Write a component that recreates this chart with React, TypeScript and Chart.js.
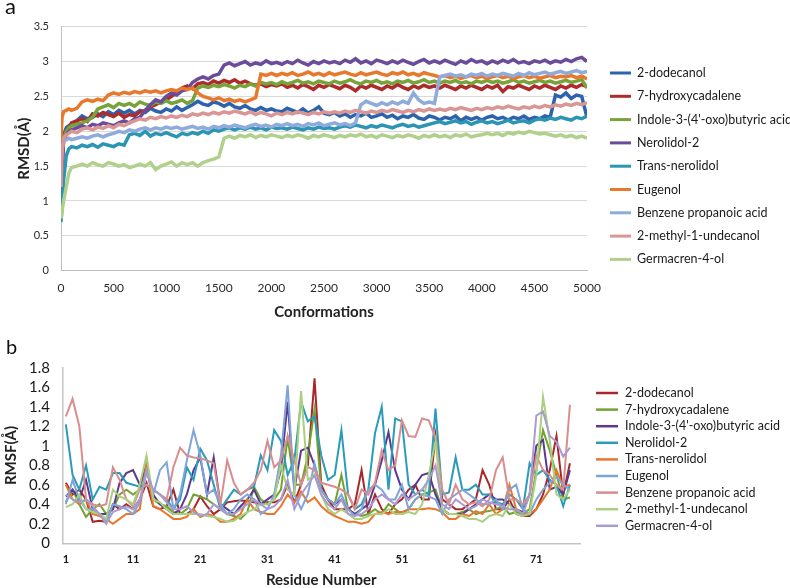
import React, { useEffect, useRef } from 'react';
import { Chart, registerables } from 'chart.js';

Chart.register(...registerables);

const FONT = 'Lato, "Open Sans", "DejaVu Sans", sans-serif';

// ---------- shared ----------
const COMPOUNDS_A = [
  '2-dodecanol', '7-hydroxycadalene', "Indole-3-(4'-oxo)butyric acid", 'Nerolidol-2',
  'Trans-nerolidol', 'Eugenol', 'Benzene propanoic acid', '2-methyl-1-undecanol', 'Germacren-4-ol',
];
const COMPOUNDS_B = [
  '2-dodecanol', '7-hydroxycadalene', "Indole-3-(4'-oxo)butyric acid", 'Nerolidol-2',
  'Trans-nerolidol', 'Eugenol', 'Benzene propanoic acid', '2-methyl-1-undecanol', 'Germacren-4-ol',
];
const COLORS_A = ['#2C63AC', '#AE2B2B', '#77A33A', '#6B4C9A', '#2B95B3', '#E8782C', '#8EABDB', '#D99694', '#B0D08C'];
const COLORS_B = ['#A8282A', '#72A332', '#5B3A8E', '#2A9BB8', '#E8762B', '#7FA4DA', '#D98D8D', '#A9CF7F', '#A99BD0'];

// ---------- panel a : RMSD vs conformations ----------
const CONFORMATIONS: number[] = [0, 10, 25, 50, 75];
for (let c = 100; c <= 5000; c += 50) CONFORMATIONS.push(c);

const RMSD_2_DODECANOL = [1.0, 1.6, 1.95, 2.05, 2.08,
  2.1, 2.15, 2.22, 2.18, 2.2, 2.25, 2.21, 2.28, 2.24, 2.3,
  2.26, 2.3, 2.25, 2.3, 2.27, 2.33, 2.29, 2.27, 2.32, 2.29,
  2.35, 2.3, 2.34, 2.38, 2.43, 2.39, 2.37, 2.42, 2.4, 2.36,
  2.4, 2.35, 2.33, 2.37, 2.32, 2.3, 2.34, 2.3, 2.32, 2.29,
  2.28, 2.33, 2.3, 2.27, 2.32, 2.26, 2.3, 2.35, 2.26, 2.24,
  2.27, 2.22, 2.25, 2.2, 2.24, 2.22, 2.26, 2.2, 2.22, 2.25,
  2.2, 2.23, 2.18, 2.22, 2.2, 2.24, 2.19, 2.17, 2.22, 2.2,
  2.16, 2.2, 2.18, 2.22, 2.15, 2.2, 2.17, 2.2, 2.16, 2.2,
  2.22, 2.18, 2.2, 2.16, 2.2, 2.18, 2.22, 2.17, 2.2, 2.18,
  2.22, 2.2, 2.52, 2.49, 2.55, 2.47, 2.52, 2.5, 2.2];
const RMSD_7_HYDROXYCADALENE = [0.9, 1.5, 1.9, 2.0, 2.05,
  2.12, 2.15, 2.18, 2.14, 2.25, 2.22, 2.27, 2.24, 2.21, 2.26,
  2.2, 2.24, 2.22, 2.28, 2.3, 2.35, 2.38, 2.42, 2.45, 2.5,
  2.55, 2.62, 2.65, 2.61, 2.68, 2.7, 2.67, 2.72, 2.69, 2.73,
  2.7, 2.74, 2.69, 2.72, 2.68, 2.66, 2.68, 2.64, 2.67, 2.65,
  2.68, 2.63, 2.66, 2.62, 2.67, 2.64, 2.6, 2.66, 2.63, 2.67,
  2.64, 2.61, 2.66, 2.63, 2.58, 2.65, 2.62, 2.66, 2.63, 2.6,
  2.65, 2.62, 2.67, 2.63, 2.6, 2.65, 2.62, 2.66, 2.63, 2.65,
  2.62, 2.66, 2.63, 2.6, 2.65, 2.62, 2.66, 2.63, 2.6, 2.65,
  2.62, 2.66, 2.57, 2.64, 2.62, 2.66, 2.63, 2.6, 2.65, 2.62,
  2.66, 2.63, 2.6, 2.65, 2.62, 2.66, 2.63, 2.67, 2.64];
const RMSD_INDOLE = [0.9, 1.6, 1.9, 2.0, 2.05,
  2.08, 2.1, 2.12, 2.15, 2.2, 2.32, 2.35, 2.38, 2.34, 2.4,
  2.37, 2.4, 2.36, 2.42, 2.39, 2.37, 2.42, 2.4, 2.44, 2.4,
  2.42, 2.45, 2.4, 2.44, 2.62, 2.65, 2.63, 2.66, 2.64, 2.67,
  2.65, 2.62, 2.66, 2.64, 2.68, 2.65, 2.7, 2.68, 2.7, 2.67,
  2.71, 2.68, 2.7, 2.73, 2.69, 2.71, 2.68, 2.72, 2.7, 2.68,
  2.72, 2.69, 2.71, 2.74, 2.7, 2.68, 2.72, 2.7, 2.73, 2.69,
  2.71, 2.68, 2.72, 2.7, 2.73, 2.69, 2.71, 2.74, 2.7, 2.72,
  2.69, 2.72, 2.7, 2.73, 2.69, 2.71, 2.68, 2.72, 2.7, 2.73,
  2.7, 2.72, 2.69, 2.71, 2.74, 2.7, 2.72, 2.69, 2.71, 2.73,
  2.7, 2.72, 2.69, 2.71, 2.73, 2.7, 2.72, 2.74, 2.62];
const RMSD_NEROLIDOL_2 = [0.9, 1.5, 1.85, 1.95, 2.0,
  2.02, 2.05, 2.08, 2.05, 2.1, 2.08, 2.12, 2.1, 2.08, 2.12,
  2.15, 2.12, 2.18, 2.2, 2.3, 2.38, 2.45, 2.42, 2.5, 2.55,
  2.52, 2.58, 2.6, 2.7, 2.75, 2.78, 2.75, 2.8, 2.82, 2.95,
  2.98, 2.94, 2.97, 3.0, 2.95, 2.98, 2.96, 3.01, 2.97, 2.99,
  2.96, 3.0, 2.97, 3.02, 2.98, 2.95, 3.0, 2.97, 3.01, 2.98,
  3.0, 2.97, 3.02, 2.99, 3.04, 2.98, 3.01, 2.97, 3.02, 3.0,
  2.97, 3.01, 2.98, 3.02, 2.99, 2.96, 3.0, 3.03, 2.98, 3.01,
  2.98, 3.02, 2.99, 2.96, 3.01, 2.98, 3.03, 2.99, 3.01, 2.97,
  3.01, 2.98, 3.02, 2.99, 3.03, 2.98, 3.0, 2.97, 3.01, 2.99,
  3.02, 2.98, 3.01, 2.99, 3.03, 3.0, 3.04, 3.06, 3.0];
const RMSD_TRANS_NEROLIDOL = [0.7, 0.9, 1.3, 1.65, 1.75,
  1.78, 1.76, 1.8, 1.78, 1.81, 1.77, 1.82, 1.8, 1.78, 1.82,
  1.8, 1.95, 1.97, 1.94, 2.0, 1.93, 1.97, 1.95, 1.98, 1.95,
  1.92, 1.97, 1.95, 1.98, 1.96, 2.0, 1.97, 2.02, 2.0, 2.03,
  2.05, 2.02, 2.05, 2.03, 2.06, 2.03, 2.05, 2.02, 2.06, 2.04,
  2.05, 2.03, 2.06, 2.04, 2.02, 2.05, 2.03, 2.06, 2.04, 2.05,
  2.03, 2.06, 2.08, 2.06, 2.09, 2.07, 2.05, 2.08, 2.06, 2.09,
  2.07, 2.05, 2.08, 2.1, 2.07, 2.09, 2.06, 2.08, 2.1, 2.12,
  2.14, 2.11, 2.13, 2.15, 2.12, 2.14, 2.1, 2.13, 2.15, 2.12,
  2.14, 2.11, 2.13, 2.16, 2.12, 2.14, 2.15, 2.12, 2.16, 2.18,
  2.16, 2.19, 2.17, 2.2, 2.18, 2.16, 2.2, 2.18, 2.22];
const RMSD_EUGENOL = [1.9, 2.2, 2.28, 2.3, 2.32,
  2.3, 2.33, 2.42, 2.45, 2.43, 2.46, 2.44, 2.52, 2.55, 2.53,
  2.56, 2.54, 2.57, 2.55, 2.58, 2.56, 2.58, 2.55, 2.58, 2.6,
  2.58, 2.62, 2.6, 2.62, 2.55, 2.5, 2.48, 2.45, 2.48, 2.44,
  2.46, 2.43, 2.45, 2.42, 2.45, 2.48, 2.82, 2.8, 2.83, 2.8,
  2.83, 2.81, 2.84, 2.8, 2.82, 2.85, 2.81, 2.83, 2.8, 2.84,
  2.81, 2.83, 2.85, 2.82, 2.8, 2.84, 2.81, 2.83, 2.85, 2.82,
  2.8, 2.84, 2.82, 2.85, 2.81, 2.83, 2.8, 2.84, 2.82, 2.8,
  2.78, 2.8, 2.77, 2.79, 2.76, 2.78, 2.8, 2.77, 2.79, 2.76,
  2.78, 2.8, 2.77, 2.79, 2.76, 2.78, 2.8, 2.77, 2.79, 2.76,
  2.78, 2.8, 2.77, 2.79, 2.78, 2.8, 2.77, 2.79, 2.75];
const RMSD_BENZENE_PROPANOIC = [1.5, 1.75, 1.85, 1.88, 1.9,
  1.88, 1.9, 1.92, 1.9, 1.93, 1.95, 1.92, 1.95, 1.97, 2.0,
  1.98, 2.02, 2.0, 2.03, 2.05, 2.02, 2.05, 2.03, 2.06, 2.04,
  2.06, 2.03, 2.05, 2.07, 2.04, 2.06, 2.03, 2.07, 2.05, 2.08,
  2.06, 2.09, 2.07, 2.05, 2.08, 2.1, 2.07, 2.09, 2.06, 2.1,
  2.08, 2.11, 2.08, 2.1, 2.07, 2.11, 2.09, 2.12, 2.08, 2.1,
  2.12, 2.09, 2.11, 2.08, 2.12, 2.38, 2.43, 2.4, 2.37, 2.41,
  2.38, 2.42, 2.39, 2.43, 2.4, 2.55, 2.45, 2.4, 2.42, 2.4,
  2.78, 2.8, 2.82, 2.79, 2.81, 2.78, 2.82, 2.8, 2.83, 2.79,
  2.82, 2.8, 2.83, 2.81, 2.79, 2.83, 2.8, 2.84, 2.81, 2.83,
  2.85, 2.82, 2.84, 2.86, 2.83, 2.85, 2.87, 2.84, 2.86];
const RMSD_2_METHYL = [1.2, 1.7, 1.9, 1.95, 1.97,
  2.0, 1.98, 2.03, 2.05, 2.02, 2.06, 2.04, 2.08, 2.05, 2.1,
  2.08, 2.12, 2.15, 2.18, 2.16, 2.2, 2.18, 2.21, 2.19, 2.22,
  2.2, 2.23, 2.21, 2.25, 2.23, 2.26, 2.24, 2.27, 2.25, 2.28,
  2.26, 2.29, 2.27, 2.25, 2.28, 2.24, 2.27, 2.25, 2.22, 2.26,
  2.24, 2.27, 2.25, 2.28, 2.26, 2.24, 2.27, 2.25, 2.28, 2.26,
  2.28, 2.26, 2.29, 2.27, 2.3, 2.28, 2.26, 2.29, 2.27, 2.3,
  2.28, 2.31, 2.29, 2.27, 2.3, 2.28, 2.31, 2.29, 2.32, 2.3,
  2.32, 2.3, 2.33, 2.31, 2.34, 2.32, 2.3, 2.33, 2.31, 2.34,
  2.32, 2.35, 2.33, 2.36, 2.34, 2.32, 2.35, 2.33, 2.36, 2.34,
  2.37, 2.35, 2.38, 2.36, 2.39, 2.37, 2.4, 2.38, 2.41];
const RMSD_GERMACREN = [0.75, 0.85, 1.0, 1.2, 1.4,
  1.48, 1.5, 1.53, 1.5, 1.55, 1.52, 1.5, 1.55, 1.53, 1.5,
  1.52, 1.48, 1.5, 1.53, 1.5, 1.55, 1.45, 1.5, 1.53, 1.56,
  1.5, 1.55, 1.52, 1.55, 1.5, 1.55, 1.58, 1.6, 1.63, 1.9,
  1.93, 1.9, 1.94, 1.92, 1.95, 1.91, 1.94, 1.92, 1.95, 1.93,
  1.91, 1.94, 1.92, 1.95, 1.93, 1.9, 1.94, 1.92, 1.95, 1.93,
  1.91, 1.94, 1.92, 1.95, 1.93, 1.96, 1.92, 1.94, 1.91, 1.95,
  1.93, 1.91, 1.94, 1.92, 1.95, 1.93, 1.9, 1.94, 1.92, 1.95,
  1.92, 1.94, 1.91, 1.95, 1.93, 1.96, 1.92, 1.94, 1.95, 1.97,
  1.95, 1.97, 1.94, 1.98, 1.96, 1.99, 1.97, 2.0, 1.98, 1.96,
  1.97, 1.95, 1.93, 1.95, 1.92, 1.94, 1.91, 1.93, 1.9];

const RMSD_SERIES = [RMSD_2_DODECANOL, RMSD_7_HYDROXYCADALENE, RMSD_INDOLE, RMSD_NEROLIDOL_2,
  RMSD_TRANS_NEROLIDOL, RMSD_EUGENOL, RMSD_BENZENE_PROPANOIC, RMSD_2_METHYL, RMSD_GERMACREN];

// ---------- panel b : RMSF vs residue ----------
const RESIDUES: string[] = [];
for (let r = 1; r <= 77; r++) RESIDUES.push(String(r));
const RESIDUE_TICKS = ['1', '11', '21', '31', '41', '51', '61', '71'];

const RMSF_2_DODECANOL = [0.62, 0.5, 0.55, 0.45, 0.22, 0.23, 0.22, 0.4, 0.35, 0.4,
  0.35, 0.45, 0.62, 0.38, 0.35, 0.38, 0.55, 0.3, 0.3, 0.35,
  0.48, 0.38, 0.3, 0.35, 0.42, 0.43, 0.44, 0.43, 0.42, 0.4,
  0.42, 0.42, 0.45, 0.6, 0.42, 0.6, 0.8, 1.69, 0.6, 0.45,
  0.35, 0.35, 0.35, 0.4, 0.75, 0.3, 0.5, 0.35, 0.3, 0.4,
  0.45, 0.55, 0.6, 0.45, 0.45, 1.1, 0.45, 0.4, 0.35, 0.35,
  0.4, 0.45, 0.75, 0.6, 0.35, 0.35, 0.45, 0.3, 0.28, 0.28,
  0.35, 0.5, 0.75, 1.1, 0.5, 0.82];
const RMSF_7_HYDROXYCADALENE = [0.42, 0.55, 0.4, 0.27, 0.35, 0.4, 0.3, 0.35, 0.5, 0.55,
  0.5, 0.55, 0.82, 0.45, 0.4, 0.38, 0.32, 0.3, 0.35, 0.5,
  0.48, 0.45, 0.4, 0.35, 0.3, 0.28, 0.25, 0.32, 0.58, 0.45,
  0.4, 0.45, 0.55, 1.08, 0.6, 0.6, 0.9, 1.37, 0.55, 0.45,
  0.4, 0.7, 0.35, 0.3, 0.28, 0.3, 0.35, 0.3, 0.4, 0.35,
  0.3, 0.35, 0.45, 0.5, 0.52, 0.55, 0.35, 0.3, 0.3, 0.32,
  0.35, 0.3, 0.32, 0.33, 0.35, 0.38, 0.3, 0.32, 0.3, 0.35,
  0.75, 1.16, 0.95, 0.7, 0.45, 0.47];
const RMSF_INDOLE = [0.48, 0.55, 0.45, 0.65, 0.35, 0.3, 0.3, 0.35, 0.62, 0.72,
  0.75, 0.6, 0.8, 0.5, 0.4, 0.35, 0.3, 0.35, 0.5, 0.75,
  0.88, 0.5, 0.88, 0.4, 0.35, 0.3, 0.38, 0.45, 0.55, 0.4,
  0.45, 0.5, 0.75, 1.45, 0.55, 0.95, 0.98, 0.8, 0.55, 0.45,
  0.4, 0.45, 0.35, 0.3, 0.35, 0.4, 0.6, 0.85, 1.14, 0.75,
  0.55, 0.45, 0.6, 0.7, 0.72, 0.5, 0.35, 0.3, 0.3, 0.3,
  0.35, 0.4, 0.45, 0.5, 0.45, 0.45, 0.4, 0.35, 0.32, 0.5,
  1.0, 1.06, 0.55, 0.58, 0.5, 0.75];
const RMSF_NEROLIDOL_2 = [1.22, 0.7, 0.55, 0.8, 0.45, 0.58, 0.55, 0.72, 0.72, 0.62,
  0.6, 0.58, 0.6, 0.55, 0.5, 0.45, 0.35, 0.45, 0.78, 0.65,
  0.97, 0.85, 0.6, 0.35, 0.45, 0.55, 0.5, 0.55, 0.58, 0.9,
  0.75, 1.16, 1.05, 0.7, 0.85, 1.45, 1.25, 1.3, 0.9, 0.65,
  0.7, 1.16, 0.5, 0.35, 0.4, 0.55, 1.13, 1.4, 0.55, 1.28,
  1.25, 0.6, 0.5, 0.55, 0.5, 1.38, 0.5, 0.52, 0.88, 0.55,
  0.55, 0.6, 0.5, 0.5, 0.42, 0.4, 0.5, 0.45, 0.35, 0.82,
  0.7, 0.75, 0.65, 0.6, 0.38, 0.6];
const RMSF_TRANS_NEROLIDOL = [0.6, 0.45, 0.4, 0.45, 0.3, 0.28, 0.25, 0.2, 0.25, 0.3,
  0.3, 0.35, 0.82, 0.38, 0.35, 0.3, 0.25, 0.25, 0.27, 0.35,
  0.27, 0.3, 0.28, 0.22, 0.22, 0.25, 0.3, 0.45, 0.35, 0.32,
  0.3, 0.3, 0.38, 0.5, 0.42, 0.53, 0.42, 0.47, 0.38, 0.32,
  0.28, 0.25, 0.22, 0.22, 0.2, 0.22, 0.3, 0.32, 0.3, 0.32,
  0.32, 0.35, 0.35, 0.35, 0.36, 0.35, 0.32, 0.25, 0.25, 0.3,
  0.28, 0.33, 0.3, 0.4, 0.3, 0.35, 0.6, 0.35, 0.3, 0.3,
  0.35, 0.45, 0.55, 0.75, 0.58, 0.6];
const RMSF_EUGENOL = [0.4, 0.65, 0.45, 0.35, 0.35, 0.3, 0.22, 0.4, 0.38, 0.35,
  0.3, 0.42, 0.75, 0.5, 0.75, 0.83, 0.35, 0.5, 0.85, 1.16,
  0.9, 0.5, 0.55, 0.4, 0.3, 0.35, 0.45, 0.5, 0.45, 0.3,
  0.35, 0.5, 0.9, 1.62, 0.5, 0.35, 0.5, 0.82, 0.55, 0.45,
  0.4, 0.5, 0.35, 0.28, 0.35, 0.55, 0.6, 0.55, 0.45, 0.45,
  0.6, 0.35, 0.45, 0.5, 0.48, 0.45, 0.3, 0.45, 0.5, 0.55,
  0.5, 0.45, 0.4, 0.4, 0.45, 0.35, 0.55, 0.6, 0.35, 0.3,
  0.45, 0.55, 0.62, 0.68, 0.6, 0.55];
const RMSF_BENZENE_PROPANOIC = [1.3, 1.48, 1.2, 0.45, 0.4, 0.38, 0.4, 0.78, 0.65, 0.45,
  0.38, 0.55, 0.6, 0.55, 0.5, 0.45, 0.78, 0.98, 0.9, 0.88,
  0.87, 0.85, 0.82, 0.4, 0.85, 0.62, 0.5, 0.55, 0.62, 0.75,
  1.05, 0.78, 0.85, 1.1, 0.85, 0.6, 0.78, 0.75, 0.62, 0.6,
  0.58, 0.55, 0.5, 0.35, 0.55, 0.5, 0.62, 0.95, 0.75, 0.8,
  1.26, 1.1, 1.09, 1.28, 1.26, 1.08, 0.55, 0.4, 0.6, 0.45,
  0.4, 0.42, 0.38, 0.45, 0.75, 0.88, 0.45, 0.45, 0.4, 0.5,
  0.9, 0.75, 0.7, 0.6, 0.55, 1.42];
const RMSF_2_METHYL = [0.37, 0.4, 0.5, 0.35, 0.32, 0.3, 0.25, 0.55, 0.48, 0.45,
  0.4, 0.6, 0.9, 0.45, 0.42, 0.35, 0.3, 0.3, 0.3, 0.3,
  0.3, 0.28, 0.27, 0.25, 0.22, 0.23, 0.28, 0.32, 0.35, 0.4,
  0.4, 0.45, 0.8, 0.55, 0.5, 1.56, 0.65, 0.7, 0.5, 0.35,
  0.3, 0.35, 0.3, 0.25, 0.25, 0.28, 0.3, 0.3, 0.35, 0.3,
  0.3, 0.32, 0.3, 0.4, 0.7, 1.05, 0.35, 0.3, 0.3, 0.28,
  0.25, 0.25, 0.22, 0.28, 0.3, 0.28, 0.4, 0.3, 0.28, 0.3,
  0.7, 1.5, 1.05, 0.5, 0.45, 0.55];
const RMSF_GERMACREN = [0.5, 0.45, 0.42, 0.45, 0.38, 0.3, 0.2, 0.32, 0.35, 0.38,
  0.35, 0.45, 0.72, 0.55, 0.5, 0.42, 0.35, 0.35, 0.38, 0.32,
  0.28, 0.3, 0.4, 0.35, 0.3, 0.3, 0.35, 0.4, 0.45, 0.4,
  0.35, 0.38, 0.45, 0.65, 0.35, 0.5, 0.6, 0.7, 0.5, 0.4,
  0.35, 0.45, 0.3, 0.28, 0.3, 0.35, 0.45, 0.5, 0.45, 0.4,
  0.5, 0.45, 0.5, 0.55, 0.65, 0.8, 0.4, 0.35, 0.45, 0.4,
  0.35, 0.38, 0.45, 0.42, 0.4, 0.38, 0.35, 0.35, 0.3, 0.5,
  1.31, 1.35, 1.1, 1.04, 0.89, 0.98];

const RMSF_SERIES = [RMSF_2_DODECANOL, RMSF_7_HYDROXYCADALENE, RMSF_INDOLE, RMSF_NEROLIDOL_2,
  RMSF_TRANS_NEROLIDOL, RMSF_EUGENOL, RMSF_BENZENE_PROPANOIC, RMSF_2_METHYL, RMSF_GERMACREN];

// ---------- plugins ----------
function sideLegend(id: string, names: string[], colors: string[], opts: {
  dx: number; y0: number; dy: number; lineLen: number; gap: number; font: string; lw: number;
}) {
  return {
    id,
    afterDraw(chart: any) {
      const { ctx, chartArea } = chart;
      ctx.save();
      ctx.font = opts.font;
      ctx.textBaseline = 'middle';
      ctx.textAlign = 'left';
      names.forEach((n, i) => {
        const y = opts.y0 + i * opts.dy;
        const x = chartArea.right + opts.dx;
        ctx.strokeStyle = colors[i];
        ctx.lineWidth = opts.lw;
        ctx.beginPath();
        ctx.moveTo(x, y);
        ctx.lineTo(x + opts.lineLen, y);
        ctx.stroke();
        ctx.fillStyle = '#1a1a1a';
        ctx.fillText(n, x + opts.lineLen + opts.gap, y);
      });
      ctx.restore();
    },
  };
}

function panelLetter(id: string, letter: string, x: number, y: number, size: number) {
  return {
    id,
    afterDraw(chart: any) {
      const ctx = chart.ctx;
      ctx.save();
      ctx.font = `${size}px ${FONT}`;
      ctx.fillStyle = '#111';
      ctx.textBaseline = 'alphabetic';
      ctx.fillText(letter, x, y);
      ctx.restore();
    },
  };
}

const tickFont = (size: number, weight: any = 'normal') => ({ family: FONT, size, weight });
const plainNumber = (v: any) => String(Math.round(Number(v) * 10) / 10);

export default function App() {
  const refA = useRef<HTMLCanvasElement>(null);
  const refB = useRef<HTMLCanvasElement>(null);

  useEffect(() => {
    const n = RMSD_SERIES.length;
    const chartA = new Chart(refA.current!, {
      type: 'line',
      data: {
        datasets: RMSD_SERIES.map((vals, i) => ({
          label: COMPOUNDS_A[i],
          data: CONFORMATIONS.map((x, k) => ({ x, y: vals[k] })),
          borderColor: COLORS_A[i],
          backgroundColor: COLORS_A[i],
          borderWidth: 3.5,
          pointRadius: 0,
          tension: 0,
          order: n - i,
        })),
      },
      options: {
        animation: false,
        responsive: true,
        maintainAspectRatio: false,
        events: [],
        layout: { padding: { left: 0, top: 26.7, right: 203, bottom: 4 } },
        plugins: { legend: { display: false }, tooltip: { enabled: false } },
        scales: {
          x: {
            type: 'linear',
            min: 0,
            max: 5000,
            ticks: {
              stepSize: 500,
              autoSkip: false,
              maxRotation: 0,
              padding: 10,
              color: '#2a2a2a',
              font: tickFont(12),
              callback: (v: any) => String(v),
            },
            grid: { display: false, drawTicks: false },
            border: { display: true, color: '#bfbfbf', width: 1 },
            title: {
              display: true,
              text: 'Conformations',
              color: '#222',
              font: { family: FONT, size: 15, weight: 'bold' },
              padding: 0,
            },
            afterFit: (s: any) => { s.height = 50.3; },
          },
          y: {
            min: 0,
            max: 3.5,
            ticks: { stepSize: 0.5, autoSkip: false, padding: 12, color: '#2a2a2a', font: tickFont(11), callback: plainNumber },
            grid: { color: '#d9d9d9', drawTicks: false, lineWidth: 1 },
            border: { display: true, color: '#bfbfbf', width: 1 },
            title: {
              display: true,
              text: 'RMSD(Å)',
              color: '#222',
              font: { family: FONT, size: 15, weight: 'bold' },
              padding: { top: 15, bottom: 0 },
            },
            afterFit: (s: any) => { s.width = 61; },
          },
        },
      } as any,
      plugins: [
        sideLegend('legendA', COMPOUNDS_A, COLORS_A, {
          dx: 23, y0: 73, dy: 23.3, lineLen: 21, gap: 6, font: `12.5px ${FONT}`, lw: 3,
        }),
        panelLetter('letterA', 'a', 5, 14, 22),
      ],
    });

    const m = RMSF_SERIES.length;
    const chartB = new Chart(refB.current!, {
      type: 'line',
      data: {
        labels: RESIDUES,
        datasets: RMSF_SERIES.map((vals, i) => ({
          label: COMPOUNDS_B[i],
          data: vals,
          borderColor: COLORS_B[i],
          backgroundColor: COLORS_B[i],
          borderWidth: 2,
          pointRadius: 0,
          tension: 0,
          order: m - i,
        })),
      },
      options: {
        animation: false,
        responsive: true,
        maintainAspectRatio: false,
        events: [],
        layout: { padding: { left: 0, top: 42.7, right: 210, bottom: 1 } },
        plugins: { legend: { display: false }, tooltip: { enabled: false } },
        scales: {
          x: {
            type: 'category',
            offset: true,
            ticks: {
              autoSkip: false,
              maxRotation: 0,
              padding: 10,
              color: '#1a1a1a',
              font: tickFont(11, 'bold'),
              callback: (_v: any, idx: number) =>
                RESIDUE_TICKS.includes(RESIDUES[idx]) ? RESIDUES[idx] : '',
            },
            grid: { display: false, drawTicks: false },
            border: { display: true, color: '#c4c4c4', width: 1.5 },
            title: {
              display: true,
              text: 'Residue Number',
              color: '#222',
              font: { family: FONT, size: 15, weight: 'bold' },
              padding: 0,
            },
            afterFit: (s: any) => { s.height = 45.7; },
          },
          y: {
            min: 0,
            max: 1.8,
            ticks: { stepSize: 0.2, autoSkip: false, padding: 12.5, color: '#1a1a1a', font: tickFont(15), callback: plainNumber },
            grid: { display: false, drawTicks: false },
            border: { display: true, color: '#c4c4c4', width: 1.5 },
            title: {
              display: true,
              text: 'RMSF(Å)',
              color: '#222',
              font: { family: FONT, size: 15, weight: 'bold' },
              padding: { top: 2, bottom: 0 },
            },
            afterFit: (s: any) => { s.width = 62.5; },
          },
        },
      } as any,
      plugins: [
        sideLegend('legendB', COMPOUNDS_B, COLORS_B, {
          dx: 16, y0: 68, dy: 16.6, lineLen: 22, gap: 7, font: `12.5px ${FONT}`, lw: 2.5,
        }),
        panelLetter('letterB', 'b', 6, 29, 20),
      ],
    });

    return () => {
      chartA.destroy();
      chartB.destroy();
    };
  }, []);

  return (
    <div style={{ position: 'absolute', left: 0, top: 0, width: 790, height: 588, overflow: 'hidden', background: '#fff' }}>
      <div style={{ position: 'absolute', left: 0, top: 0, width: 790, height: 325 }}>
        <canvas ref={refA} />
      </div>
      <div style={{ position: 'absolute', left: 0, top: 325, width: 790, height: 265 }}>
        <canvas ref={refB} />
      </div>
    </div>
  );
}
